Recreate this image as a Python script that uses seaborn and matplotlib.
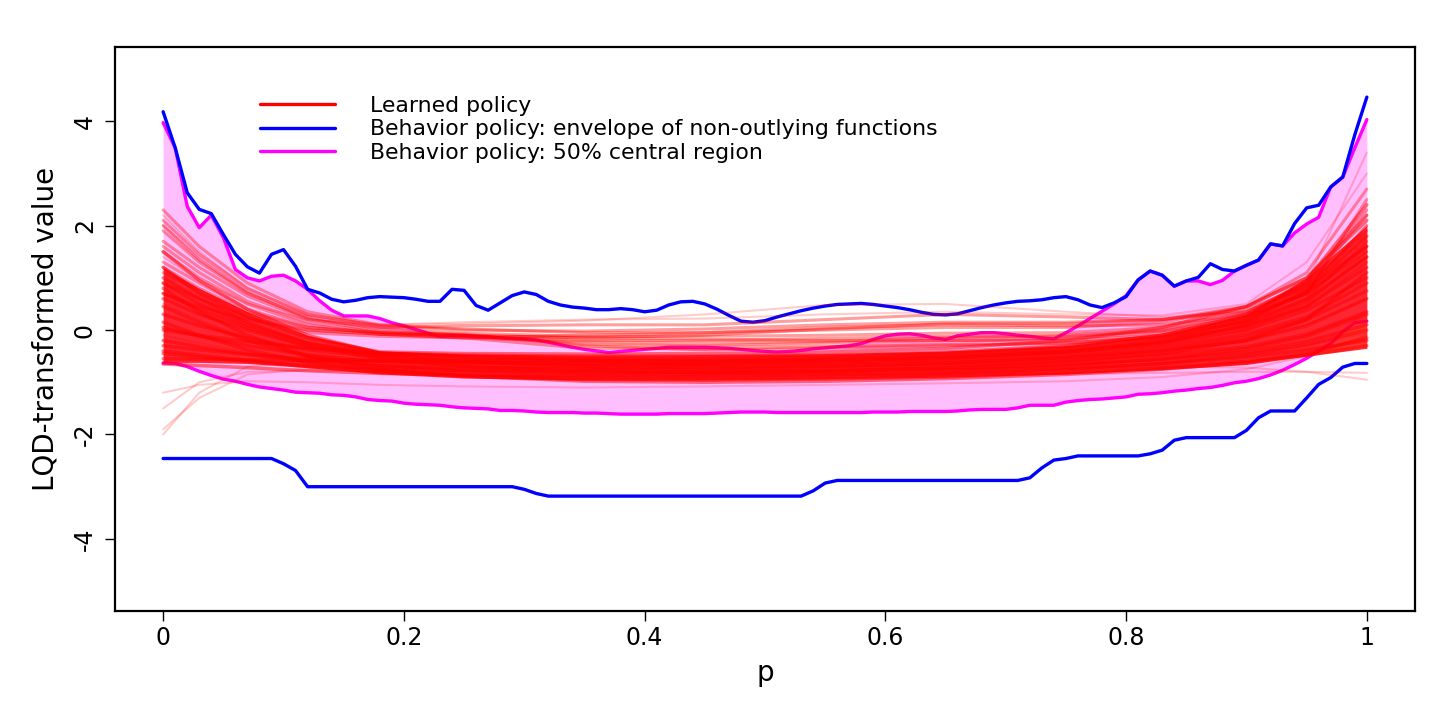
import numpy as np
import pandas as pd
import matplotlib
matplotlib.use("Agg")
import matplotlib.pyplot as plt
import seaborn as sns
from matplotlib.lines import Line2D

# grid of p values used by the behaviour-policy summaries
p_grid = np.round(np.arange(101) * 0.01, 2)

# Behaviour policy: envelope of non-outlying functions (blue)
env_upper = [4.18, 3.49, 2.63, 2.31, 2.23, 1.83, 1.45, 1.21, 1.09, 1.45,
             1.54, 1.22, 0.78, 0.71, 0.59, 0.54, 0.57, 0.62, 0.64, 0.63,
             0.62, 0.59, 0.55, 0.55, 0.78, 0.76, 0.47, 0.38, 0.52, 0.66,
             0.73, 0.68, 0.55, 0.48, 0.44, 0.42, 0.39, 0.39, 0.41, 0.39,
             0.35, 0.38, 0.48, 0.54, 0.55, 0.50, 0.40, 0.28, 0.17, 0.15,
             0.18, 0.25, 0.31, 0.37, 0.42, 0.46, 0.49, 0.50, 0.51, 0.49,
             0.46, 0.43, 0.39, 0.34, 0.30, 0.29, 0.31, 0.37, 0.43, 0.48,
             0.52, 0.55, 0.56, 0.58, 0.62, 0.64, 0.58, 0.48, 0.43, 0.52,
             0.64, 0.96, 1.13, 1.05, 0.84, 0.94, 1.01, 1.27, 1.16, 1.13,
             1.24, 1.34, 1.65, 1.61, 2.04, 2.34, 2.39, 2.74, 2.93, 3.74,
             4.46]
env_lower = ([-2.46] * 10 + [-2.56, -2.69] + [-3.00] * 18 + [-3.05, -3.13]
             + [-3.18] * 22 + [-3.08, -2.93] + [-2.88] * 16
             + [-2.83, -2.64, -2.49, -2.46] + [-2.41] * 6 + [-2.37, -2.30, -2.11]
             + [-2.06] * 5 + [-1.92, -1.68] + [-1.55] * 3
             + [-1.30, -1.04, -0.91, -0.71, -0.64, -0.64])

# Behaviour policy: 50% central region (magenta)
central_upper = [3.97, 3.49, 2.37, 1.96, 2.20, 1.77, 1.16, 1.00, 0.94, 1.03,
                 1.05, 0.94, 0.78, 0.56, 0.38, 0.27, 0.27, 0.27, 0.22, 0.14,
                 0.08, 0.01, -0.06, -0.12, -0.11, -0.11, -0.13, -0.13, -0.15, -0.16,
                 -0.17, -0.19, -0.23, -0.28, -0.33, -0.37, -0.40, -0.43, -0.41, -0.39,
                 -0.37, -0.35, -0.33, -0.33, -0.33, -0.33, -0.34, -0.35, -0.37, -0.39,
                 -0.41, -0.42, -0.41, -0.39, -0.36, -0.34, -0.32, -0.30, -0.26, -0.18,
                 -0.11, -0.08, -0.07, -0.10, -0.15, -0.18, -0.11, -0.08, -0.05, -0.05,
                 -0.07, -0.10, -0.12, -0.15, -0.17, -0.05, 0.08, 0.22, 0.36, 0.50,
                 0.66, 0.96, 1.13, 1.05, 0.84, 0.94, 0.94, 0.87, 0.95, 1.13,
                 1.24, 1.34, 1.65, 1.61, 1.86, 2.03, 2.16, 2.74, 2.93, 3.49,
                 4.03]
central_lower = [-0.63, -0.64, -0.70, -0.79, -0.87, -0.94, -0.98, -1.04, -1.09, -1.12,
                 -1.15, -1.19, -1.20, -1.21, -1.24, -1.25, -1.28, -1.33, -1.35, -1.36,
                 -1.40, -1.42, -1.43, -1.44, -1.47, -1.49, -1.50, -1.51, -1.54, -1.54,
                 -1.55, -1.57, -1.58, -1.58, -1.58, -1.59, -1.59, -1.60, -1.61, -1.61,
                 -1.61, -1.61, -1.60, -1.60, -1.60, -1.60, -1.59, -1.58, -1.57, -1.57,
                 -1.57, -1.58, -1.58, -1.58, -1.58, -1.58, -1.58, -1.58, -1.58, -1.57,
                 -1.57, -1.57, -1.56, -1.56, -1.56, -1.56, -1.55, -1.53, -1.52, -1.52,
                 -1.52, -1.49, -1.44, -1.44, -1.44, -1.38, -1.35, -1.33, -1.32, -1.30,
                 -1.28, -1.23, -1.22, -1.20, -1.17, -1.15, -1.12, -1.10, -1.06, -1.01,
                 -0.98, -0.93, -0.86, -0.77, -0.66, -0.54, -0.40, -0.26, -0.03, 0.14,
                 0.17]

# Learned policy curves, read at a coarser set of p values
p_knots = [0, 0.03, 0.07, 0.12, 0.18, 0.25, 0.35, 0.45, 0.55, 0.65, 0.75, 0.83, 0.9, 0.95, 1.0]

core_curves = [
    [1.2, 0.7, 0.25, -0.15, -0.42, -0.45, -0.46, -0.45, -0.42, -0.35, -0.2, 0.05, 0.45, 1.0, 2.1],
    [0.9, 0.5, 0.1, -0.25, -0.45, -0.5, -0.55, -0.55, -0.52, -0.45, -0.32, -0.1, 0.25, 0.7, 1.6],
    [0.6, 0.3, 0.0, -0.32, -0.48, -0.56, -0.6, -0.61, -0.58, -0.52, -0.4, -0.22, 0.08, 0.45, 1.2],
    [0.3, 0.08, -0.15, -0.38, -0.52, -0.6, -0.65, -0.66, -0.64, -0.58, -0.47, -0.32, -0.08, 0.25, 0.9],
    [0.05, -0.12, -0.3, -0.48, -0.6, -0.66, -0.7, -0.71, -0.69, -0.63, -0.53, -0.4, -0.2, 0.08, 0.6],
    [-0.2, -0.32, -0.46, -0.6, -0.68, -0.72, -0.75, -0.76, -0.74, -0.68, -0.6, -0.48, -0.32, -0.08, 0.35],
    [-0.45, -0.52, -0.6, -0.68, -0.74, -0.78, -0.8, -0.81, -0.79, -0.74, -0.66, -0.56, -0.42, -0.22, 0.1],
    [-0.65, -0.68, -0.72, -0.78, -0.83, -0.86, -0.88, -0.88, -0.86, -0.82, -0.74, -0.64, -0.52, -0.38, -0.2],
    [1.5, 0.95, 0.4, -0.1, -0.44, -0.52, -0.58, -0.6, -0.58, -0.52, -0.42, -0.25, 0.0, 0.38, 1.0],
    [0.0, -0.1, -0.22, -0.35, -0.44, -0.48, -0.5, -0.5, -0.48, -0.42, -0.3, -0.1, 0.3, 0.95, 2.4],
    [0.8, 0.35, -0.1, -0.5, -0.75, -0.88, -0.95, -0.96, -0.94, -0.9, -0.82, -0.72, -0.6, -0.48, -0.3],
    [-0.3, -0.38, -0.47, -0.55, -0.6, -0.63, -0.65, -0.65, -0.62, -0.55, -0.43, -0.25, 0.1, 0.55, 1.4],
    [0.45, 0.15, -0.2, -0.5, -0.68, -0.78, -0.84, -0.85, -0.83, -0.78, -0.68, -0.55, -0.36, -0.12, 0.3],
    [1.0, 0.6, 0.15, -0.25, -0.5, -0.6, -0.7, -0.72, -0.7, -0.64, -0.53, -0.38, -0.14, 0.2, 0.75],
    [-0.55, -0.56, -0.57, -0.58, -0.58, -0.58, -0.58, -0.58, -0.55, -0.48, -0.36, -0.18, 0.18, 0.75, 1.8],
    [0.15, -0.1, -0.38, -0.62, -0.78, -0.86, -0.91, -0.92, -0.9, -0.85, -0.76, -0.64, -0.48, -0.28, 0.0],
    [0.7, 0.4, 0.05, -0.3, -0.55, -0.7, -0.78, -0.8, -0.78, -0.72, -0.6, -0.45, -0.2, 0.2, 1.1],
    [-0.4, -0.48, -0.58, -0.7, -0.8, -0.88, -0.98, -1.0, -0.98, -0.93, -0.85, -0.75, -0.62, -0.45, -0.15],
]

streak_curves = [
    [2.3, 1.6, 0.9, 0.35, 0.1, 0.02, -0.05, -0.05, 0.0, 0.05, 0.05, 0.15, 0.45, 1.1, 2.7],
    [1.9, 1.3, 0.7, 0.25, 0.02, -0.06, -0.12, -0.12, -0.1, -0.06, -0.05, 0.05, 0.35, 0.9, 2.3],
    [1.6, 1.1, 0.55, 0.15, -0.05, -0.12, -0.2, -0.2, -0.16, -0.12, -0.12, -0.02, 0.25, 0.75, 2.0],
    [1.3, 0.9, 0.4, 0.05, -0.05, -0.1, -0.28, -0.3, -0.25, -0.2, -0.2, -0.1, 0.15, 0.6, 1.7],
    [2.0, 1.35, 0.72, 0.22, -0.03, -0.1, -0.15, -0.1, 0.02, 0.12, 0.12, 0.2, 0.4, 0.85, 1.9],
    [1.1, 0.75, 0.32, 0.0, -0.08, -0.15, -0.35, -0.36, -0.32, -0.28, -0.25, -0.15, 0.05, 0.45, 1.3],
    [0.7, 0.45, 0.2, 0.0, -0.08, -0.1, -0.15, -0.18, -0.2, -0.2, -0.16, -0.05, 0.2, 0.7, 2.5],
    [1.7, 1.2, 0.65, 0.2, 0.05, 0.08, 0.1, 0.1, 0.2, 0.3, 0.25, 0.2, 0.35, 0.8, 1.6],
    [1.5, 1.0, 0.5, 0.1, -0.08, -0.15, -0.22, -0.25, -0.22, -0.15, -0.1, 0.0, 0.3, 0.85, 2.2],
    [0.9, 0.6, 0.25, -0.05, -0.12, -0.15, -0.1, -0.05, 0.05, 0.1, 0.08, 0.1, 0.3, 0.7, 1.5],
    [1.2, 0.8, 0.35, 0.05, -0.05, -0.08, -0.3, -0.38, -0.35, -0.3, -0.25, -0.12, 0.15, 0.6, 1.4],
    [2.1, 1.45, 0.8, 0.3, 0.08, 0.0, -0.02, 0.02, 0.1, 0.15, 0.15, 0.2, 0.45, 1.0, 2.2],
]

fringe_curves = [
    [2.2, 1.5, 0.8, 0.3, 0.05, -0.1, -0.25, -0.3, -0.3, -0.25, -0.15, 0.0, 0.3, 0.9, 3.4],
    [-1.9, -1.3, -0.85, -0.75, -0.72, -0.72, -0.72, -0.72, -0.7, -0.65, -0.55, -0.4, -0.2, 0.1, 0.6],
    [-1.5, -1.0, -0.8, -0.78, -0.78, -0.8, -0.82, -0.82, -0.8, -0.76, -0.68, -0.58, -0.45, -0.3, -0.05],
    [0.5, 0.2, -0.15, -0.45, -0.62, -0.7, -0.75, -0.76, -0.76, -0.75, -0.72, -0.7, -0.72, -0.8, -0.95],
    [-0.1, -0.25, -0.42, -0.58, -0.68, -0.74, -0.8, -0.84, -0.86, -0.86, -0.84, -0.82, -0.8, -0.8, -0.82],
    [-1.2, -1.05, -0.98, -1.0, -1.05, -1.08, -1.1, -1.08, -1.05, -1.02, -0.98, -0.9, -0.75, -0.5, -0.1],
    [1.4, 0.95, 0.5, 0.2, 0.1, 0.12, 0.18, 0.3, 0.48, 0.5, 0.35, 0.25, 0.35, 0.8, 2.0],
    [2.0, 1.4, 0.75, 0.28, 0.1, 0.15, 0.2, 0.22, 0.3, 0.35, 0.3, 0.28, 0.5, 1.3, 3.0],
    [-2.0, -1.2, -0.7, -0.6, -0.6, -0.62, -0.65, -0.66, -0.65, -0.6, -0.5, -0.3, 0.0, 0.5, 1.5],
]

# densest part of the learned-policy band
core_top = [1.2, 0.8, 0.35, -0.1, -0.4, -0.46, -0.48, -0.47, -0.45, -0.4, -0.3, -0.1, 0.3, 1.0, 2.0]
core_bottom = [-0.62, -0.62, -0.64, -0.72, -0.84, -0.92, -0.96, -0.96, -0.94, -0.9, -0.84, -0.76, -0.66, -0.5, -0.35]

legend_labels = ["Learned policy",
                 "Behavior policy: envelope of non-outlying functions",
                 "Behavior policy: 50% central region"]


def to_long(curves):
    rows = []
    for i, c in enumerate(curves):
        for p, v in zip(p_knots, c):
            rows.append((i, p, v))
    return pd.DataFrame(rows, columns=["curve", "p", "value"])


sns.set_style("ticks")
plt.rcParams["font.family"] = ["DejaVu Sans"]
plt.rcParams["axes.unicode_minus"] = False
for k in ["text.color", "axes.labelcolor", "xtick.color", "ytick.color"]:
    plt.rcParams[k] = "black"

fig = plt.figure(figsize=(14.4, 7.2), dpi=100)
ax = fig.add_axes([115 / 1440, 109 / 720, 1300 / 1440, 564 / 720])

# 50% central region
ax.fill_between(p_grid, central_lower, central_upper, color="#FFBFFF", lw=0, zorder=1)
sns.lineplot(x=p_grid, y=central_upper, color="#FF00FF", lw=2.4, ax=ax, zorder=2)
sns.lineplot(x=p_grid, y=central_lower, color="#FF00FF", lw=2.4, ax=ax, zorder=2)

# envelope
sns.lineplot(x=p_grid, y=env_upper, color="#0000FF", lw=2.4, ax=ax, zorder=3)
sns.lineplot(x=p_grid, y=env_lower, color="#0000FF", lw=2.4, ax=ax, zorder=3)

# learned policy functions
ax.fill_between(p_knots, core_bottom, core_top, color="#FF0000", alpha=0.8, lw=0, zorder=4)
sns.lineplot(data=to_long(fringe_curves), x="p", y="value", units="curve", estimator=None,
             color="#FF0000", alpha=0.2, lw=1.5, ax=ax, zorder=5)
sns.lineplot(data=to_long(streak_curves), x="p", y="value", units="curve", estimator=None,
             color="#FF0000", alpha=0.38, lw=2.2, ax=ax, zorder=5)
sns.lineplot(data=to_long(core_curves), x="p", y="value", units="curve", estimator=None,
             color="#FF0000", alpha=0.5, lw=2.5, ax=ax, zorder=5)

ax.set_xlim(-0.04, 1.04)
ax.set_ylim(-5.38, 5.42)
ax.set_xticks([0, 0.2, 0.4, 0.6, 0.8, 1.0])
ax.set_xticklabels(["0", "0.2", "0.4", "0.6", "0.8", "1"])
ax.set_yticks([-4, -2, 0, 2, 4])
ax.set_yticklabels(["-4", "-2", "0", "2", "4"], rotation=90, va="center")
ax.tick_params(axis="both", labelsize=17, length=7, width=1, color="black", direction="out")
ax.tick_params(axis="x", pad=4)
ax.tick_params(axis="y", pad=6)
for s in ax.spines.values():
    s.set_visible(True)
    s.set_linewidth(1.6)
    s.set_color("black")
ax.set_xlabel("p", fontsize=20, labelpad=6)
ax.set_ylabel("LQD-transformed value", fontsize=20, labelpad=10)

handles = [Line2D([], [], color="#FF0000", lw=2.4),
           Line2D([], [], color="#0000FF", lw=2.4),
           Line2D([], [], color="#FF00FF", lw=2.4)]
ax.legend(handles, legend_labels, loc="upper left",
          bbox_to_anchor=(260 / 1440, (720 - 96) / 720), bbox_transform=fig.transFigure,
          frameon=False, fontsize=15.8, handlelength=3.4, handletextpad=1.6,
          borderpad=0, borderaxespad=0, labelspacing=0.15)

fig.savefig("out.png", dpi=100)
